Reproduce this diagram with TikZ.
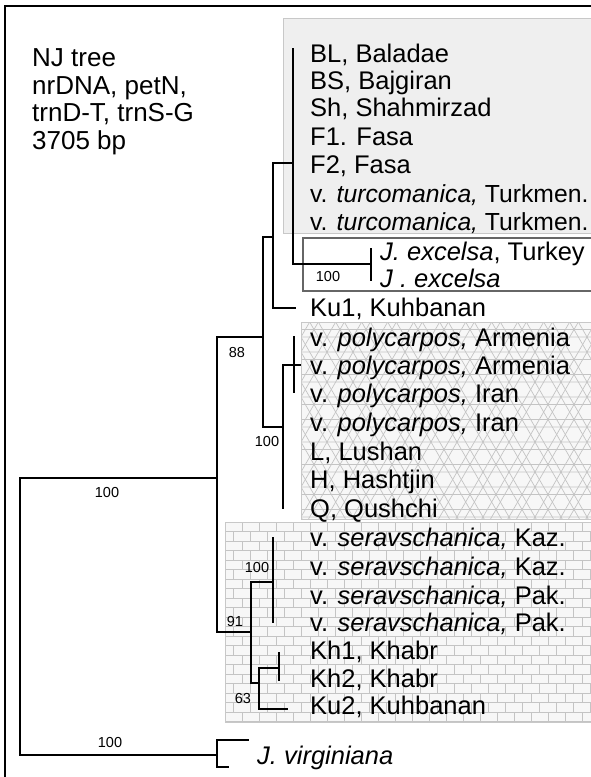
\documentclass[tikz,border=0pt]{standalone}
\usepackage{fontspec}
\setmainfont{Liberation Sans}
\definecolor{boxgrey}{HTML}{EFEFEF}
\definecolor{boxedge}{HTML}{C8C8C8}
\definecolor{patline}{HTML}{C4C4C4}
\definecolor{pale}{HTML}{F7F7F7}
\definecolor{exedge}{HTML}{666666}
\begin{document}
\begin{tikzpicture}[x=1pt,y=-1pt,
  tree/.style={line width=2.4pt, line cap=rect},
  tax/.style={anchor=base west, inner sep=0pt, font=\fontsize{25.5}{28}\selectfont},
  taxn/.style={anchor=base west, inner sep=0pt, font=\fontsize{24.7}{28}\selectfont},
  hdr/.style={anchor=base west, inner sep=0pt, font=\fontsize{26}{28}\selectfont},
  bs/.style={inner sep=0pt, font=\fontsize{14.5}{16}\selectfont},
  pat/.style={draw=patline, line width=0.7pt}]
\useasboundingbox (0,0) rectangle (591,777);
\fill[white] (0,0) rectangle (591,777);

% ---- boxes ----
\filldraw[fill=boxgrey, draw=boxedge, line width=0.8pt] (283,18) rectangle (600,233);
\filldraw[fill=white, draw=exedge, line width=1.2pt] (303,238) rectangle (600,291);

% polycarpos box with star lattice
\fill[pale] (301,322) rectangle (600,519);
\begin{scope}
  \clip (301,322) rectangle (600,519);
  \foreach \r in {0,...,9} {
    \pgfmathsetmacro\yy{322+22.5*\r}
    \pgfmathsetmacro\off{mod(\r,2)*13}
    \foreach \k in {-1,...,12} {
      \draw[pat] (301+\off+26*\k,\yy) +(90:15pt) -- +(210:15pt) -- +(330:15pt) -- cycle;
      \draw[pat] (301+\off+26*\k,\yy) +(30:15pt) -- +(150:15pt) -- +(270:15pt) -- cycle;
    }
  }
\end{scope}
\draw[draw=boxedge, line width=0.6pt] (301,322) rectangle (600,519);

% seravschanica box with bricks
\fill[pale] (225,522) rectangle (600,722);
\begin{scope}
  \clip (225,522) rectangle (600,722);
  \foreach \j in {0,...,21} {
    \pgfmathsetmacro\yy{522+9.5*\j}
    \pgfmathsetmacro\off{mod(\j,2)*8.5}
    \draw[pat] (225,\yy) -- (600,\yy);
    \foreach \k in {-1,...,22} {
      \draw[pat] (225+\off+17*\k,\yy) -- (225+\off+17*\k,\yy+9.5);
    }
  }
\end{scope}
\draw[draw=boxedge, line width=0.6pt] (225,522) rectangle (600,722);

% ---- frame ----
\draw[line width=2.5pt] (5,777) -- (5,6) -- (600,6);

% ---- header ----
\node[hdr] (h1) at (32,66) {NJ tree};
\node[hdr] (h2) at (32,94) {nrDNA, petN,};
\node[hdr] (h3) at (32,121) {trnD-T, trnS-G};
\node[hdr] (h4) at (32,149) {3705 bp};

% ---- tree coordinates ----
\coordinate (R1) at (20,478); \coordinate (R2) at (20,755);
\coordinate (A1) at (217,337); \coordinate (A2) at (217,632);
\coordinate (B1) at (263,237); \coordinate (B2) at (263,427);
\coordinate (D1) at (273,163); \coordinate (D2) at (273,308);
\coordinate (E1) at (293,49);  \coordinate (E2) at (293,264);
\coordinate (X1) at (371,249); \coordinate (X2) at (371,280);
\coordinate (P1) at (283,365); \coordinate (P2) at (283,508);
\coordinate (Q1) at (294,337); \coordinate (Q2) at (294,392);
\coordinate (C1) at (251,582); \coordinate (C2) at (251,683);
\coordinate (S1) at (273,538); \coordinate (S2) at (273,622);
\coordinate (F1) at (259,668); \coordinate (F2) at (259,709);
\coordinate (K1) at (279,653); \coordinate (K2) at (279,680);
\coordinate (V1) at (217,740); \coordinate (V2) at (217,767);
\coordinate (ku1) at (295,308); \coordinate (ku2) at (287,709);
\coordinate (pt) at (300,365);
\coordinate (vt1) at (248,740); \coordinate (vt2) at (228,767);

\draw[tree] (R1) -- (R2);
\draw[tree] (R1) -- (R1 -| A1);
\draw[tree] (R2) -- (R2 -| V1);
\draw[tree] (V1) -- (V2);
\draw[tree] (V1) -- (vt1);
\draw[tree] (V2) -- (vt2);
\draw[tree] (A1) -- (A2);
\draw[tree] (A1) -- (A1 -| B1);
\draw[tree] (A2) -- (A2 -| C1);
\draw[tree] (B1) -- (B2);
\draw[tree] (B1) -- (B1 -| D1);
\draw[tree] (B2) -- (B2 -| P1);
\draw[tree] (D1) -- (D2);
\draw[tree] (D1) -- (D1 -| E1);
\draw[tree] (D2) -- (ku1);
\draw[tree] (E1) -- (E2);
\draw[tree] (E2) -- (E2 -| X1);
\draw[tree] (X1) -- (X2);
\draw[tree] (P1) -- (P2);
\draw[tree] (P1) -- (pt);
\draw[tree] (Q1) -- (Q2);
\draw[tree] (C1) -- (C2);
\draw[tree] (C1) -- (C1 -| S1);
\draw[tree] (C2) -- (C2 -| F1);
\draw[tree] (S1) -- (S2);
\draw[tree] (F1) -- (F2);
\draw[tree] (F1) -- (F1 -| K1);
\draw[tree] (F2) -- (ku2);
\draw[tree] (K1) -- (K2);

% ---- bootstrap values ----
\node[bs] (b1) at (107,493) {100};
\node[bs] (b2) at (110,742) {100};
\node[bs] (b3) at (237,353) {88};
\node[bs] (b4) at (328,277) {100};
\node[bs] (b5) at (267,442) {100};
\node[bs] (b6) at (257,568) {100};
\node[bs] (b7) at (235,621) {91};
\node[bs] (b8) at (243,698) {63};

% ---- taxa ----
\node[tax] (t1)  at (310,62)  {BL, Baladae};
\node[tax] (t2)  at (310,89)  {BS, Bajgiran};
\node[tax] (t3)  at (310,116) {Sh, Shahmirzad};
\node[tax] (t4)  at (310,145) {F1. Fasa};
\node[tax] (t5)  at (310,173) {F2, Fasa};
\node[taxn] (t6)  at (310,202) {v. \textit{turcomanica,} Turkmen.};
\node[taxn] (t7)  at (310,230) {v. \textit{turcomanica,} Turkmen.};
\node[tax] (t8)  at (380,260) {\textit{J. excelsa}, Turkey};
\node[tax] (t9)  at (380,287) {\textit{J . excelsa}};
\node[tax] (t10) at (310,316) {Ku1, Kuhbanan};
\node[tax] (t11) at (310,346) {v. \textit{polycarpos,} Armenia};
\node[tax] (t12) at (310,374) {v. \textit{polycarpos,} Armenia};
\node[tax] (t13) at (310,402) {v. \textit{polycarpos,} Iran};
\node[tax] (t14) at (310,431) {v. \textit{polycarpos,} Iran};
\node[tax] (t15) at (310,460) {L, Lushan};
\node[tax] (t16) at (310,488) {H, Hashtjin};
\node[tax] (t17) at (310,517) {Q, Qushchi};
\node[tax] (t18) at (310,546) {v. \textit{seravschanica,} Kaz.};
\node[tax] (t19) at (310,575) {v. \textit{seravschanica,} Kaz.};
\node[tax] (t20) at (310,604) {v. \textit{seravschanica,} Pak.};
\node[tax] (t21) at (310,631) {v. \textit{seravschanica,} Pak.};
\node[tax] (t22) at (310,659) {Kh1, Khabr};
\node[tax] (t23) at (310,687) {Kh2, Khabr};
\node[tax] (t24) at (310,714) {Ku2, Kuhbanan};
\node[tax] (t25) at (257,764) {\textit{J. virginiana}};
\end{tikzpicture}
\end{document}
